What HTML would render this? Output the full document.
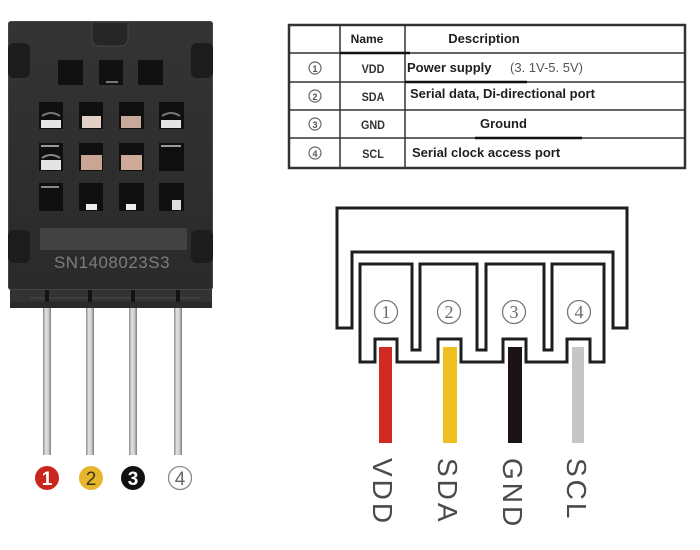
<!DOCTYPE html>
<html>
<head>
<meta charset="utf-8">
<style>
  html, body { margin: 0; padding: 0; background: #ffffff; }
  body { width: 700px; height: 550px; overflow: hidden; }
  svg { display: block; }
</style>
</head>
<body>
<svg width="700" height="550" viewBox="0 0 700 550" xmlns="http://www.w3.org/2000/svg">
  <defs>
    <linearGradient id="pin" x1="0" x2="1" y1="0" y2="0">
      <stop offset="0" stop-color="#8a8a8a"/>
      <stop offset="0.35" stop-color="#e4e4e4"/>
      <stop offset="0.7" stop-color="#c8c8c8"/>
      <stop offset="1" stop-color="#7a7a7a"/>
    </linearGradient>
    <linearGradient id="bodyg" x1="0" x2="0" y1="0" y2="1">
      <stop offset="0" stop-color="#343434"/>
      <stop offset="1" stop-color="#2a2a2a"/>
    </linearGradient>
  </defs>

  <!-- ================= SENSOR ================= -->
  <!-- pins -->
  <g>
    <rect x="43" y="298" width="8" height="157" fill="url(#pin)"/>
    <rect x="86" y="298" width="8" height="157" fill="url(#pin)"/>
    <rect x="129" y="298" width="8" height="157" fill="url(#pin)"/>
    <rect x="174" y="298" width="8" height="157" fill="url(#pin)"/>
  </g>
  <!-- base ledge -->
  <rect x="10" y="286" width="202" height="22" rx="2" fill="#333"/>
  <rect x="10" y="302" width="202" height="6" fill="#2a2a2a"/>
  <line x1="30" y1="298" x2="200" y2="298" stroke="#4a4a4a" stroke-width="1"/>
  <!-- pin stubs on base -->
  <rect x="45" y="288" width="4" height="14" fill="#141414"/>
  <rect x="88" y="288" width="4" height="14" fill="#141414"/>
  <rect x="131" y="288" width="4" height="14" fill="#141414"/>
  <rect x="176" y="288" width="4" height="14" fill="#141414"/>

  <!-- main body -->
  <rect x="8" y="21" width="205" height="269" rx="3" fill="url(#bodyg)"/>
  <rect x="8.5" y="21.5" width="204" height="268" rx="3" fill="none" stroke="#444" stroke-width="1"/>
  <!-- top notch -->
  <path d="M92,22 L92,38 Q92,46 100,46 L120,46 Q128,46 128,38 L128,22 Z" fill="#262626" stroke="#454545" stroke-width="1"/>
  <!-- side notches -->
  <rect x="8" y="43" width="22" height="35" rx="6" fill="#1c1c1c"/>
  <rect x="191" y="43" width="22" height="35" rx="6" fill="#1c1c1c"/>
  <rect x="8" y="230" width="22" height="33" rx="6" fill="#1c1c1c"/>
  <rect x="191" y="230" width="22" height="33" rx="6" fill="#1c1c1c"/>

  <!-- top row windows -->
  <rect x="58" y="60" width="25" height="25" fill="#111"/>
  <rect x="99" y="60" width="24" height="25" fill="#111"/>
  <rect x="138" y="60" width="25" height="25" fill="#111"/>
  <rect x="106" y="81" width="12" height="2" fill="#777"/>

  <!-- row 2 -->
  <rect x="39" y="102" width="24" height="27" fill="#0f0f0f"/>
  <rect x="79" y="102" width="24" height="27" fill="#0f0f0f"/>
  <rect x="119" y="102" width="25" height="27" fill="#0f0f0f"/>
  <rect x="159" y="102" width="25" height="27" fill="#0f0f0f"/>
  <rect x="41" y="120" width="20" height="8" fill="#e6e6e6"/>
  <rect x="82" y="116" width="19" height="12" fill="#e2cfc6"/>
  <rect x="121" y="116" width="20" height="12" fill="#c7a999"/>
  <rect x="161" y="120" width="20" height="8" fill="#e4e4e4"/>
  <path d="M42,116 Q51,110 60,116" stroke="#777" stroke-width="2" fill="none"/>
  <path d="M162,116 Q171,110 180,116" stroke="#777" stroke-width="2" fill="none"/>

  <!-- row 3 -->
  <rect x="39" y="143" width="24" height="28" fill="#0f0f0f"/>
  <rect x="79" y="143" width="24" height="28" fill="#0f0f0f"/>
  <rect x="119" y="143" width="25" height="28" fill="#0f0f0f"/>
  <rect x="159" y="143" width="25" height="28" fill="#0f0f0f"/>
  <rect x="41" y="160" width="20" height="10" fill="#e4e4e4"/>
  <rect x="41" y="145" width="18" height="2" fill="#999"/>
  <path d="M42,158 Q51,152 60,158" stroke="#888" stroke-width="2" fill="none"/>
  <rect x="81" y="155" width="21" height="15" fill="#c9a595"/>
  <rect x="121" y="155" width="21" height="15" fill="#d0aa98"/>
  <rect x="161" y="145" width="20" height="2" fill="#9a9a9a"/>

  <!-- row 4 -->
  <rect x="39" y="183" width="24" height="28" fill="#0f0f0f"/>
  <rect x="79" y="183" width="24" height="28" fill="#0f0f0f"/>
  <rect x="119" y="183" width="25" height="28" fill="#0f0f0f"/>
  <rect x="159" y="183" width="25" height="28" fill="#0f0f0f"/>
  <rect x="41" y="186" width="18" height="2" fill="#888"/>
  <rect x="86" y="204" width="11" height="6" fill="#eee"/>
  <rect x="126" y="204" width="10" height="6" fill="#eee"/>
  <rect x="172" y="200" width="9" height="10" fill="#ddd"/>

  <!-- label area -->
  <rect x="40" y="228" width="147" height="22" fill="#424242"/>
  <text x="112" y="268" text-anchor="middle" font-family="Liberation Sans, sans-serif" font-size="17" fill="#7d7d7d" letter-spacing="0.5">SN1408023S3</text>

  <!-- numbered badges -->
  <circle cx="47" cy="478" r="12" fill="#c8261e"/>
  <text x="47" y="485" text-anchor="middle" font-family="Liberation Sans, sans-serif" font-weight="bold" font-size="19" fill="#fff">1</text>
  <circle cx="91" cy="478" r="12" fill="#e8b62c"/>
  <text x="91" y="485" text-anchor="middle" font-family="Liberation Sans, sans-serif" font-size="19" fill="#3b3410">2</text>
  <circle cx="133" cy="478" r="12" fill="#111"/>
  <text x="133" y="485" text-anchor="middle" font-family="Liberation Sans, sans-serif" font-weight="bold" font-size="19" fill="#fff">3</text>
  <circle cx="180" cy="478" r="11.5" fill="#fff" stroke="#8a8a8a" stroke-width="1.3"/>
  <text x="180" y="485" text-anchor="middle" font-family="Liberation Sans, sans-serif" font-size="19" fill="#666">4</text>

  <!-- ================= TABLE ================= -->
  <g stroke="#333" fill="none">
    <rect x="289" y="25" width="396" height="143" stroke-width="2.5"/>
    <line x1="340" y1="25" x2="340" y2="168" stroke-width="1.5"/>
    <line x1="405" y1="25" x2="405" y2="168" stroke-width="1.5"/>
    <line x1="289" y1="53" x2="685" y2="53" stroke-width="1.5"/>
    <line x1="289" y1="82" x2="685" y2="82" stroke-width="1.5"/>
    <line x1="289" y1="110" x2="685" y2="110" stroke-width="1.5"/>
    <line x1="289" y1="138" x2="685" y2="138" stroke-width="1.5"/>
    <line x1="340" y1="53" x2="410" y2="53" stroke="#111" stroke-width="2.5"/>
    <line x1="405" y1="82" x2="527" y2="82" stroke="#111" stroke-width="2.5"/>
    <line x1="475" y1="138" x2="582" y2="138" stroke="#111" stroke-width="2.5"/>
  </g>
  <g font-family="Liberation Sans, sans-serif" fill="#1e1e1e">
    <text x="367" y="43" text-anchor="middle" font-size="12" font-weight="bold">Name</text>
    <text x="484" y="43" text-anchor="middle" font-size="13" font-weight="bold">Description</text>

    <g fill="#555" font-size="13">
      <circle cx="315" cy="68" r="6" fill="none" stroke="#666" stroke-width="1.2"/>
      <text x="315" y="72" text-anchor="middle" font-size="9" font-weight="bold">1</text>
      <circle cx="315" cy="96" r="6" fill="none" stroke="#666" stroke-width="1.2"/>
      <text x="315" y="100" text-anchor="middle" font-size="9" font-weight="bold">2</text>
      <circle cx="315" cy="124" r="6" fill="none" stroke="#666" stroke-width="1.2"/>
      <text x="315" y="128" text-anchor="middle" font-size="9" font-weight="bold">3</text>
      <circle cx="315" cy="153" r="6" fill="none" stroke="#666" stroke-width="1.2"/>
      <text x="315" y="157" text-anchor="middle" font-size="9" font-weight="bold">4</text>
    </g>

    <g font-size="12" font-weight="bold" fill="#333" text-anchor="middle">
      <text x="373" y="73" transform="translate(373,0) scale(0.9,1) translate(-373,0)">VDD</text>
      <text x="373" y="101" transform="translate(373,0) scale(0.9,1) translate(-373,0)">SDA</text>
      <text x="373" y="129" transform="translate(373,0) scale(0.9,1) translate(-373,0)">GND</text>
      <text x="373" y="158" transform="translate(373,0) scale(0.9,1) translate(-373,0)">SCL</text>
    </g>

    <text x="407" y="72" font-size="13" font-weight="bold">Power supply</text>
    <text x="510" y="72" font-size="13" fill="#555">(3. 1V-5. 5V)</text>
    <text x="410" y="98" font-size="13" font-weight="bold">Serial data, Di-directional port</text>
    <text x="480" y="128" font-size="13" font-weight="bold">Ground</text>
    <text x="412" y="157" font-size="13" font-weight="bold">Serial clock access port</text>
  </g>

  <!-- ================= CONNECTOR ================= -->
  <path d="M337,328 V208 H627 V328 H613 V252 H352 V328 Z" fill="none" stroke="#1e1e1e" stroke-width="3" stroke-linejoin="miter"/>
  <path d="M360,362 V264 H412 V350 H420 V264 H477 V350 H486 V264 H544 V350 H552 V264 H604 V362 H590 V339 H567 V362 H526 V339 H503 V362 H461 V339 H438 V362 H397 V339 H375 V362 Z" fill="none" stroke="#1e1e1e" stroke-width="3" stroke-linejoin="miter"/>

  <!-- circled numbers -->
  <g fill="none" stroke="#7a7a7a" stroke-width="1.3">
    <circle cx="386" cy="312" r="11.5"/>
    <circle cx="449" cy="312" r="11.5"/>
    <circle cx="514" cy="312" r="11.5"/>
    <circle cx="579" cy="312" r="11.5"/>
  </g>
  <g font-family="Liberation Serif, serif" font-size="18" fill="#6a6a6a" text-anchor="middle">
    <text x="386" y="318">1</text>
    <text x="449" y="318">2</text>
    <text x="514" y="318">3</text>
    <text x="579" y="318">4</text>
  </g>

  <!-- wires -->
  <rect x="379" y="347" width="13" height="96" fill="#d22a22"/>
  <rect x="443" y="347" width="14" height="96" fill="#f0c020"/>
  <rect x="508" y="347" width="14" height="96" fill="#1c1414"/>
  <rect x="572" y="347" width="12" height="96" fill="#c6c6c6"/>

  <!-- vertical labels -->
  <g font-family="Liberation Sans, sans-serif" font-size="28" fill="#4a4a4a" letter-spacing="3">
    <text transform="translate(373,458) rotate(90)">VDD</text>
    <text transform="translate(438,458) rotate(90)">SDA</text>
    <text transform="translate(503,458) rotate(90)">GND</text>
    <text transform="translate(567,458) rotate(90)">SCL</text>
  </g>
</svg>
</body>
</html>
